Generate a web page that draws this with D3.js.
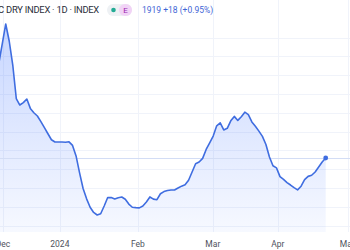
<!DOCTYPE html>
<html>
<head>
<meta charset="utf-8">
<script src="https://cdn.jsdelivr.net/npm/d3@7"></script>
<style>
  html, body { margin: 0; padding: 0; background: #fff; }
  svg { display: block; font-family: Roboto, "Liberation Sans", sans-serif; }
</style>
</head>
<body>
<div id="chart"></div>
<script>
// one close per trading day, early Dec 2023 -> mid Apr 2024
const closes = [
  2920, 3132, 3346, 3162, 2909, 2552, 2483, 2508, 2547, 2447,
  2401, 2366, 2306, 2242, 2177, 2113, 2089, 2089, 2089, 2086,
  2091, 2053, 1941, 1760, 1594, 1484, 1395, 1339, 1312, 1325,
  1408, 1498, 1497, 1483, 1496, 1503, 1480, 1428, 1394, 1390,
  1388, 1407, 1450, 1504, 1481, 1475, 1538, 1561, 1573, 1578,
  1578, 1599, 1619, 1633, 1682, 1770, 1858, 1876, 1915, 2010,
  2080, 2152, 2261, 2293, 2218, 2235, 2315, 2362, 2319, 2358,
  2407, 2381, 2303, 2256, 2205, 2149, 2063, 1930, 1836, 1814,
  1720, 1691, 1657, 1631, 1603, 1580, 1618, 1688, 1723, 1735,
  1770, 1823, 1877, 1919
];

const monthLabels = ['Dec', '2024', 'Feb', 'Mar', 'Apr', 'May'];
const monthIndex = [1.2, 17.4, 39.6, 60.9, 79.4, 99.3];
const gridValues = [1200, 1400, 1600, 1800, 2000, 2200, 2400, 2600, 2800, 3000, 3200];

const symbolTitle = 'BALTIC DRY INDEX · 1D · INDEX';
const lastPrice = 1919;
const quote = '1919 +18 (+0.95%)';

const width = 350;
const height = 250;
const plotBottom = 232;

const svg = d3
  .select('#chart')
  .append('svg')
  .attr('width', width)
  .attr('height', height);

const x = d3.scaleLinear().domain([0, closes.length - 1]).range([-1.3, 325.7]);
const y = d3.scaleLinear().domain([1200, 3400]).range([225.5, 18.9]);

const defs = svg.append('defs');
const grad = defs
  .append('linearGradient')
  .attr('id', 'fill')
  .attr('x1', 0).attr('y1', 0).attr('x2', 0).attr('y2', 1);
grad.append('stop').attr('offset', '0%').attr('stop-color', '#2962ff').attr('stop-opacity', 0.26);
grad.append('stop').attr('offset', '100%').attr('stop-color', '#2962ff').attr('stop-opacity', 0.04);

// grid
svg.append('g')
  .selectAll('line')
  .data(gridValues)
  .join('line')
  .attr('x1', 0)
  .attr('x2', width)
  .attr('y1', d => Math.round(y(d)) + 0.5)
  .attr('y2', d => Math.round(y(d)) + 0.5)
  .attr('stroke', '#f0f3fa');

svg.append('g')
  .selectAll('line')
  .data(monthIndex)
  .join('line')
  .attr('x1', d => Math.round(x(d)) + 0.5)
  .attr('x2', d => Math.round(x(d)) + 0.5)
  .attr('y1', 0)
  .attr('y2', plotBottom)
  .attr('stroke', '#f0f3fa');

// area + line
const area = d3
  .area()
  .x((d, i) => x(i))
  .y0(plotBottom)
  .y1(d => y(d));

const line = d3
  .line()
  .x((d, i) => x(i))
  .y(d => y(d));

svg.append('path')
  .attr('d', area(closes))
  .attr('fill', 'url(#fill)');

// last price line
svg.append('line')
  .attr('x1', 0)
  .attr('x2', width)
  .attr('y1', Math.round(y(lastPrice)) + 0.5)
  .attr('y2', Math.round(y(lastPrice)) + 0.5)
  .attr('stroke', '#d3ddf5');

svg.append('path')
  .attr('d', line(closes))
  .attr('fill', 'none')
  .attr('stroke', '#3f6de0')
  .attr('stroke-width', 1.6)
  .attr('stroke-linejoin', 'round');

svg.append('circle')
  .attr('cx', x(closes.length - 1))
  .attr('cy', y(lastPrice))
  .attr('r', 2.4)
  .attr('fill', '#3f6de0');

// time axis
svg.append('g')
  .selectAll('text')
  .data(monthLabels)
  .join('text')
  .attr('x', (d, i) => x(monthIndex[i]))
  .attr('y', 247)
  .attr('text-anchor', 'middle')
  .attr('font-size', 8.5)
  .attr('fill', '#50535e')
  .text(d => d);

// header
const header = svg.append('g');
header.append('text')
  .attr('x', 99)
  .attr('y', 13)
  .attr('text-anchor', 'end')
  .attr('font-size', 9.4)
  .attr('letter-spacing', -0.25)
  .attr('fill', '#2a2e39')
  .text(symbolTitle);

header.append('rect')
  .attr('x', 107).attr('y', 4).attr('width', 25).attr('height', 12).attr('rx', 6)
  .attr('fill', '#eef1f4');
header.append('circle')
  .attr('cx', 113.5).attr('cy', 10).attr('r', 2.3)
  .attr('fill', '#22ab94');
header.append('rect')
  .attr('x', 119).attr('y', 4).attr('width', 13).attr('height', 12).attr('rx', 6)
  .attr('fill', '#f1d3f6');
header.append('text')
  .attr('x', 125.5).attr('y', 13)
  .attr('text-anchor', 'middle')
  .attr('font-size', 8)
  .attr('fill', '#9c27b0')
  .text('E');

header.append('text')
  .attr('x', 142)
  .attr('y', 13)
  .attr('font-size', 8.5)
  .attr('fill', '#3f66d6')
  .text(quote);
</script>
</body>
</html>
